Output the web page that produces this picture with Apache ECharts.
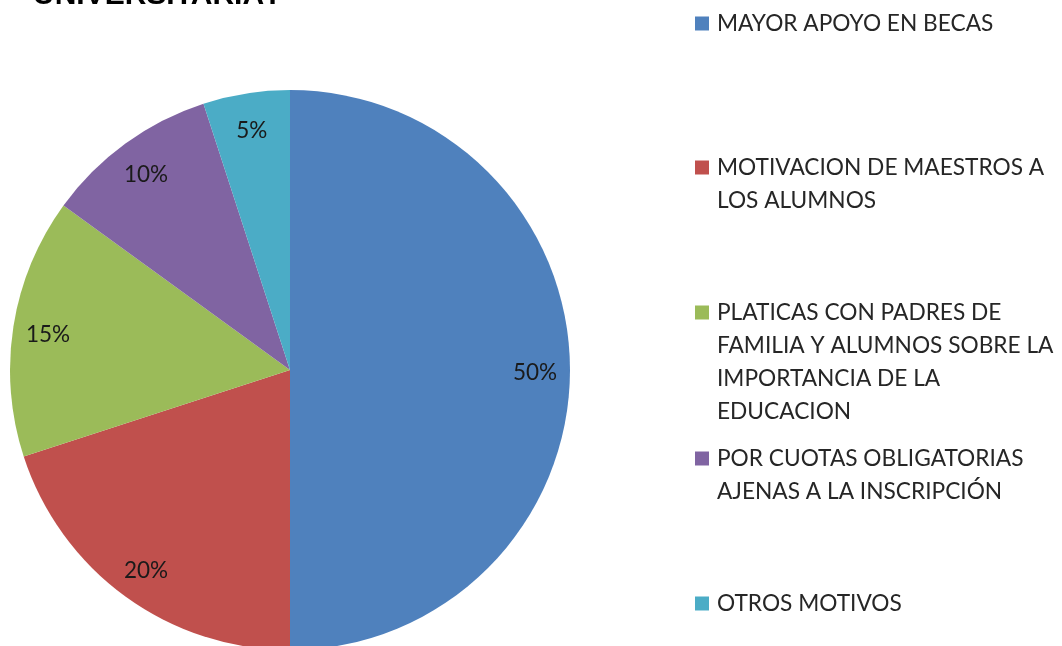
<!DOCTYPE html>
<html>
<head>
<meta charset="utf-8">
<script src="https://cdn.jsdelivr.net/npm/echarts@6/dist/echarts.min.js"></script>
<style>
  html, body { margin: 0; padding: 0; background: #fff; }
  #chart { width: 1062px; height: 646px; }
</style>
</head>
<body>
<div id="chart"></div>
<script>
  // datos de la grafica
  const categorias = [
    'MAYOR APOYO EN BECAS',
    'MOTIVACION DE MAESTROS A LOS ALUMNOS',
    'PLATICAS CON PADRES DE FAMILIA Y ALUMNOS SOBRE LA IMPORTANCIA DE LA EDUCACION',
    'POR CUOTAS OBLIGATORIAS AJENAS A LA INSCRIPCIÓN',
    'OTROS MOTIVOS'
  ]
  const valores = [50, 20, 15, 10, 5]
  // texto de la leyenda partido en renglones
  const renglones = [
    ['MAYOR APOYO EN BECAS'],
    ['MOTIVACION DE MAESTROS A', 'LOS ALUMNOS'],
    ['PLATICAS CON PADRES DE', 'FAMILIA Y ALUMNOS SOBRE LA', 'IMPORTANCIA DE LA', 'EDUCACION'],
    ['POR CUOTAS OBLIGATORIAS', 'AJENAS A LA INSCRIPCIÓN'],
    ['OTROS MOTIVOS']
  ]
  const titulo = 'UNIVERSITARIA?'

  const colores = ['#4F81BD', '#C0504D', '#9BBB59', '#8064A2', '#4BACC6']
  const legendTops = [12, 156, 301, 447, 592]

  const chart = echarts.init(document.getElementById('chart'))
  const datos = categorias.map((name, i) => ({ name: name, value: valores[i] }))

  const legends = categorias.map((name, i) => {
    const rich = {
      t: { fontSize: 22.7, lineHeight: 33, color: '#262626', fontFamily: 'Lato' },
      gap: { width: 8, height: 14 },
      ind: { width: 22, height: 14 }
    }
    rich['sq' + i] = { width: 14, height: 14, backgroundColor: colores[i] }
    return {
      left: 690,
      top: legendTops[i],
      orient: 'vertical',
      icon: 'none',
      itemWidth: 0,
      itemGap: 0,
      padding: 0,
      selectedMode: false,
      data: [name],
      formatter: function () {
        return renglones[i].map((r, k) => (k === 0 ? '{sq' + i + '|}{gap|}' : '{ind|}') + '{t|' + r + '}').join('\n')
      },
      textStyle: { rich: rich, padding: 0 }
    }
  })

  chart.setOption({
    color: colores,
    animation: false,
    title: {
      text: titulo,
      left: 28,
      top: -24,
      textStyle: { fontSize: 30, fontWeight: 'bold', color: '#000', fontFamily: 'Liberation Sans' }
    },
    legend: legends,
    series: [{
      name: 'motivos',
      type: 'pie',
      radius: 280,
      center: [290, 370],
      startAngle: 90,
      clockwise: true,
      label: { show: false },
      labelLine: { show: false },
      emphasis: { disabled: true },
      data: datos
    }, {
      // solo para poner las etiquetas cerca del borde
      name: 'etiquetas',
      type: 'pie',
      radius: [204, 280],
      center: [290, 373],
      startAngle: 90,
      clockwise: true,
      silent: true,
      itemStyle: { color: 'rgba(0,0,0,0)' },
      label: {
        show: true,
        position: 'inside',
        formatter: '{d}%',
        fontSize: 22.5,
        color: '#1a1a1a',
        fontFamily: 'Lato'
      },
      labelLine: { show: false },
      data: datos
    }]
  })
</script>
</body>
</html>
